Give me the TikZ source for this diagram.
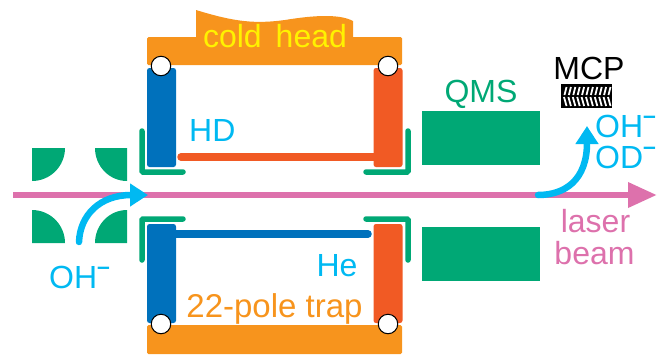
\documentclass[tikz,border=0pt]{standalone}
\usepackage{fontspec}
\setmainfont{Liberation Sans}
\usetikzlibrary{arrows.meta}
\definecolor{trapgreen}{HTML}{00A875}
\definecolor{coldorange}{HTML}{F7941D}
\definecolor{hdred}{HTML}{F15A24}
\definecolor{hepurple}{HTML}{0071BC}
\definecolor{ioncyan}{HTML}{00B9F2}
\definecolor{laserpink}{HTML}{DD71AC}
\newcommand{\ionminus}{\raisebox{14pt}{\fontsize{23}{23}\selectfont\bfseries –}}

\begin{document}
\begin{tikzpicture}[x=1pt, y=-1pt, every node/.style={inner sep=0pt, font=\fontsize{32}{32}\selectfont}]
    \tikzset{bar/.style={rectangle, fill=coldorange, minimum width=255pt, rounded corners=1.5pt}}
    \tikzset{pole/.style={rectangle, minimum width=29pt, minimum height=99pt, rounded corners=2.5pt}}
    \tikzset{mount/.style={circle, draw=black, line width=1pt, fill=white, minimum size=19.5pt}}
    \tikzset{qms/.style={rectangle, fill=trapgreen, minimum width=118pt, minimum height=54pt}}
    \tikzset{shield/.style={draw=trapgreen, line width=5.5pt, line cap=round, rounded corners=1pt}}
    \tikzset{rod/.style={line width=7.5pt, line cap=round}}
    \tikzset{ion/.style={draw=ioncyan, line width=6.5pt, line cap=round, -{Triangle[length=18pt, width=22pt]}}}
    \tikzset{quad/.style={fill=trapgreen}}
    \useasboundingbox (0,0) rectangle (664,354);

    % Cold head and holders
    \fill [coldorange] (196,10) .. controls (235,22) and (255,24) .. (285,20) .. controls (315,15) and (340,14) .. (353,21) -- (353,40) -- (196,40) -- cycle;
    \node [bar, minimum height=28pt] (bar_top) at (274.5,51) {};
    \node [bar, minimum height=29pt] (bar_bot) at (274.5,339.5) {};

    % Quadrupole bender
    \fill [quad] (32,148) -- (65,148) arc (0:90:33) -- cycle;
    \fill [quad] (127,148) -- (95,148) arc (180:90:32 and 33) -- cycle;
    \fill [quad] (32,243) -- (32,210) arc (-90:0:33) -- cycle;
    \fill [quad] (127,243) -- (127,210) arc (-90:-180:32 and 33) -- cycle;

    % Electrodes
    \node [pole, fill=hepurple] (pole_tl) at (161.5,117.5) {};
    \node [pole, fill=hdred] (pole_tr) at (388,117.5) {};
    \node [pole, fill=hepurple] (pole_bl) at (161.5,273.5) {};
    \node [pole, fill=hdred] (pole_br) at (388,273.5) {};

    \coordinate (rod_hd) at (181,157);
    \coordinate (rod_he) at (368,234);
    \draw [rod, hdred] (pole_tr.west |- rod_hd) -- (rod_hd);
    \draw [rod, hepurple] (pole_bl.east |- rod_he) -- (rod_he);

    \node [mount] (mount_tl) at (161,66) {};
    \node [mount] (mount_tr) at (388,66) {};
    \node [mount] (mount_bl) at (161,324) {};
    \node [mount] (mount_br) at (388,324) {};

    % Shields
    \draw [shield] (142,131) -- (142,172) -- (183,172);
    \draw [shield] (142,260) -- (142,219) -- (183,219);
    \draw [shield] (408,131) -- (408,172) -- (366,172);
    \draw [shield] (408,260) -- (408,219) -- (366,219);

    % QMS
    \node [qms] (qms_top) at (481,138) {};
    \node [qms] (qms_bot) at (481,253.5) {};
    \node [text=trapgreen, anchor=base] (qms_label) at (481,102) {QMS};

    % MCP
    \node [rectangle, fill=black, minimum width=51pt, minimum height=24pt] (mcp) at (586.5,96) {};
    \foreach \i in {0,...,10} {
        \draw [white, line width=1.8pt] (566.5+4.4*\i,87) -- (564.5+4.4*\i,95);
        \draw [white, line width=1.8pt] (564+4.4*\i,97) -- (566.5+4.4*\i,106);
    }
    \node [anchor=base] (mcp_label) at (589,79) {MCP};

    % Beams
    \coordinate (laser_in) at (13,195);
    \coordinate (laser_out) at (657,195);
    \draw [laserpink, line width=6.5pt, -{Triangle[length=29pt, width=24pt]}] (laser_in) -- (laser_out);
    \coordinate (ion_in) at (79,242);
    \coordinate (ion_mid) at (148,195);
    \draw [ion] (ion_in) .. controls (80,215) and (100,195) .. (ion_mid);
    \coordinate (ion_exit) at (538,195);
    \coordinate (ion_up) at (587,126);
    \draw [ion] (ion_exit) .. controls (565,195) and (587,180) .. (ion_up);

    % Labels
    \node [text=yellow, anchor=base] (cold_label) at (275,47) {cold\hspace{14pt}head};
    \node [text=ioncyan, anchor=base west] (hd_label) at (189,141) {HD};
    \node [text=ioncyan, anchor=base] (he_label) at (337,276) {He};
    \node [text=coldorange, anchor=base, font=\fontsize{33}{33}\selectfont] (trap_label) at (274.5,317) {22-pole trap};
    \node [text=ioncyan, anchor=base west] (oh_in_label) at (49,288) {OH\ionminus};
    \node [text=ioncyan, anchor=base west] (oh_out_label) at (595,137) {OH\ionminus};
    \node [text=ioncyan, anchor=base west] (od_out_label) at (595,168) {OD\ionminus};
    \node [text=laserpink, anchor=base] (laser_label) at (595.5,232) {laser};
    \node [text=laserpink, anchor=base] (beam_label) at (594.5,264) {beam};
\end{tikzpicture}
\end{document}
